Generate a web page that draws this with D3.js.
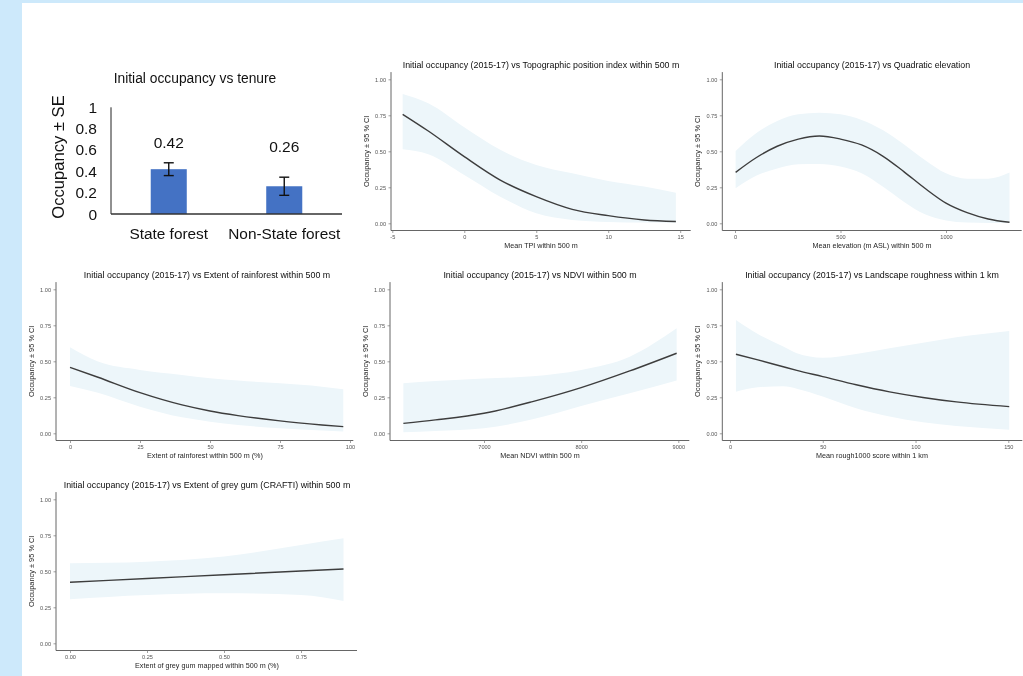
<!DOCTYPE html>
<html>
<head>
<meta charset="utf-8">
<script src="https://cdn.jsdelivr.net/npm/d3@7"></script>
<style>
  html, body { margin: 0; padding: 0; background: #cde9fb; }
  svg { display: block; will-change: transform; }
  .axis-title { fill: #1e1e1e; }
</style>
</head>
<body>
<svg id="chart" width="1023" height="676"></svg>
<script>
// ---- Tenure bar chart ----
const tenureCats = ["State forest", "Non-State forest"];
const tenureOcc = [0.42, 0.26];
const tenureSE = [0.06, 0.085];
const tenureTicks = [0, 0.2, 0.4, 0.6, 0.8, 1];

// ---- Occupancy response curves (fit, lower and upper 95% CI) ----
const tpiX    = [-4.28, -2.5, 0, 2.5, 5, 7.5, 10, 12.5, 14.7];
const tpiFit  = [0.757, 0.641, 0.463, 0.30, 0.185, 0.097, 0.053, 0.023, 0.012];
const tpiLow  = [0.514, 0.48, 0.336, 0.185, 0.069, 0.023, 0.009, 0.005, 0.004];
const tpiHigh = [0.898, 0.833, 0.667, 0.51, 0.405, 0.347, 0.294, 0.255, 0.213];
const tpiTicks = [-5, 0, 5, 10, 15];

const elevX    = [3, 100, 200, 300, 400, 500, 600, 700, 800, 900, 1000, 1100, 1200, 1301];
const elevFit  = [0.354, 0.455, 0.535, 0.585, 0.606, 0.585, 0.544, 0.467, 0.359, 0.243, 0.14, 0.074, 0.03, 0.007];
const elevLow  = [0.243, 0.33, 0.38, 0.41, 0.412, 0.394, 0.347, 0.255, 0.15, 0.062, 0.019, 0.005, 0.002, 0.002];
const elevHigh = [0.502, 0.625, 0.71, 0.757, 0.768, 0.757, 0.718, 0.648, 0.549, 0.44, 0.347, 0.31, 0.31, 0.352];
const elevTicks = [0, 500, 1000];

const rainX    = [0, 10, 25, 40, 50, 60, 75, 90, 97.6];
const rainFit  = [0.458, 0.389, 0.282, 0.197, 0.155, 0.123, 0.086, 0.058, 0.046];
const rainLow  = [0.329, 0.282, 0.185, 0.111, 0.081, 0.058, 0.035, 0.019, 0.012];
const rainHigh = [0.597, 0.498, 0.44, 0.405, 0.382, 0.366, 0.347, 0.324, 0.306];
const rainTicks = [0, 25, 50, 75, 100];

const ndviX    = [6170, 6500, 7000, 7500, 8000, 8500, 8983];
const ndviFit  = [0.069, 0.093, 0.139, 0.22, 0.317, 0.433, 0.556];
const ndviLow  = [0.007, 0.016, 0.035, 0.097, 0.19, 0.278, 0.366];
const ndviHigh = [0.347, 0.363, 0.38, 0.396, 0.44, 0.532, 0.729];
const ndviTicks = [7000, 8000, 9000];

const roughX    = [3.2, 15, 28.7, 36, 50, 68, 86, 104, 122, 150.5];
const roughFit  = [0.549, 0.51, 0.462, 0.437, 0.394, 0.337, 0.288, 0.249, 0.218, 0.185];
const roughLow  = [0.289, 0.32, 0.326, 0.31, 0.255, 0.174, 0.116, 0.076, 0.051, 0.025];
const roughHigh = [0.787, 0.69, 0.602, 0.556, 0.525, 0.551, 0.59, 0.629, 0.667, 0.711];
const roughTicks = [0, 50, 100, 150];

const gumX    = [0, 0.25, 0.5, 0.75, 0.888];
const gumFit  = [0.424, 0.45, 0.476, 0.502, 0.516];
const gumLow  = [0.306, 0.336, 0.347, 0.336, 0.294];
const gumHigh = [0.556, 0.567, 0.602, 0.683, 0.729];
const gumTicks = [0, 0.25, 0.5, 0.75];

const occTicks = [0, 0.25, 0.5, 0.75, 1];

const FONT = "'Liberation Sans', Arial, sans-serif";
const svg = d3.select("#chart");

// white page area
svg.append("rect").attr("x", 22).attr("y", 3).attr("width", 1001).attr("height", 673).attr("fill", "#ffffff");

// ---------- Tenure bar chart ----------
(function drawTenure() {
  const g = svg.append("g").attr("font-family", FONT);
  const x = d3.scaleBand().domain(tenureCats).range([111, 342]).paddingInner(0.688).paddingOuter(0.344);
  const y = d3.scaleLinear().domain([0, 1]).range([214, 107.3]);

  g.append("text").attr("x", 195).attr("y", 82.5).attr("text-anchor", "middle")
    .attr("font-size", 13.8).attr("fill", "#111").text("Initial occupancy vs tenure");

  // y tick labels (no tick marks)
  g.selectAll(".ytl").data(tenureTicks).join("text")
    .attr("x", 97).attr("y", d => y(d) + 5.5).attr("text-anchor", "end")
    .attr("font-size", 15.5).attr("fill", "#111").text(d => d3.format("")(d));

  g.append("text").attr("transform", `translate(63.5,157) rotate(-90)`)
    .attr("text-anchor", "middle").attr("font-size", 16.6).attr("fill", "#111").text("Occupancy ± SE");

  const data = tenureCats.map((c, i) => ({ c, v: tenureOcc[i], se: tenureSE[i] }));

  g.selectAll(".bar").data(data).join("rect")
    .attr("x", d => x(d.c)).attr("width", x.bandwidth())
    .attr("y", d => y(d.v)).attr("height", d => y(0) - y(d.v))
    .attr("fill", "#4472c4");

  // error bars
  const eb = g.selectAll(".eb").data(data).join("g").attr("stroke", "#111").attr("stroke-width", 1.4);
  eb.append("line").attr("x1", d => x(d.c) + x.bandwidth() / 2).attr("x2", d => x(d.c) + x.bandwidth() / 2)
    .attr("y1", d => y(d.v - d.se)).attr("y2", d => y(d.v + d.se));
  eb.append("line").attr("x1", d => x(d.c) + x.bandwidth() / 2 - 5).attr("x2", d => x(d.c) + x.bandwidth() / 2 + 5)
    .attr("y1", d => y(d.v + d.se)).attr("y2", d => y(d.v + d.se));
  eb.append("line").attr("x1", d => x(d.c) + x.bandwidth() / 2 - 5).attr("x2", d => x(d.c) + x.bandwidth() / 2 + 5)
    .attr("y1", d => y(d.v - d.se)).attr("y2", d => y(d.v - d.se));

  // value labels
  g.selectAll(".vl").data(data).join("text")
    .attr("x", d => x(d.c) + x.bandwidth() / 2)
    .attr("y", (d, i) => y(0.6) + (i === 0 ? -1.5 : 2))
    .attr("text-anchor", "middle").attr("font-size", 15.5).attr("fill", "#111")
    .text(d => d3.format(".2f")(d.v));

  // axes
  g.append("line").attr("x1", 111).attr("x2", 111).attr("y1", y(1)).attr("y2", y(0))
    .attr("stroke", "#222").attr("stroke-width", 1);
  g.append("line").attr("x1", 111).attr("x2", 342).attr("y1", y(0)).attr("y2", y(0))
    .attr("stroke", "#333").attr("stroke-width", 1.6);

  g.selectAll(".xl").data(tenureCats).join("text")
    .attr("x", d => x(d) + x.bandwidth() / 2).attr("y", 239)
    .attr("text-anchor", "middle").attr("font-size", 15.4).attr("fill", "#111").text(d => d);
})();

// ---------- Response curve panels ----------
function drawPanel(p) {
  const g = svg.append("g").attr("font-family", FONT);
  const x = d3.scaleLinear().domain(p.xRef).range(p.xPix);
  const y = d3.scaleLinear().domain([0, 1]).range([p.bottom - 7.2, p.bottom - 151.2]);
  const top = p.bottom - 158.4;

  const pts = p.xs.map((v, i) => ({ x: v, fit: p.fit[i], lo: p.lo[i], hi: p.hi[i] }));

  g.append("path").datum(pts)
    .attr("d", d3.area().x(d => x(d.x)).y0(d => y(d.lo)).y1(d => y(d.hi)).curve(d3.curveMonotoneX))
    .attr("fill", "#edf6fa");

  g.append("path").datum(pts)
    .attr("d", d3.line().x(d => x(d.x)).y(d => y(d.fit)).curve(d3.curveMonotoneX))
    .attr("fill", "none").attr("stroke", "#3d3d3d").attr("stroke-width", 1.4);

  // y axis
  const ya = g.append("g").attr("transform", `translate(${p.left},0)`)
    .call(d3.axisLeft(y).tickValues(occTicks).tickFormat(d3.format(".2f")).tickSize(2.5).tickPadding(2.5));
  ya.select(".domain").attr("d", `M0,${top}V${p.bottom}`).attr("stroke", "#555").attr("stroke-width", 0.9);
  ya.selectAll(".tick line").attr("stroke", "#777").attr("stroke-width", 0.7);
  ya.selectAll(".tick text").attr("font-size", 5.6).attr("fill", "#555").attr("font-family", FONT);

  // x axis
  const xa = g.append("g").attr("transform", `translate(0,${p.bottom})`)
    .call(d3.axisBottom(x).tickValues(p.ticks).tickFormat(p.fmt).tickSize(2.5).tickPadding(2));
  xa.select(".domain").attr("d", `M${p.left},0H${p.right}`).attr("stroke", "#555").attr("stroke-width", 0.9);
  xa.selectAll(".tick line").attr("stroke", "#777").attr("stroke-width", 0.7);
  xa.selectAll(".tick text").attr("font-size", 5.6).attr("fill", "#555").attr("font-family", FONT);

  const cx = Math.round((p.left + p.right) / 2);
  g.append("text").attr("x", cx + (p.titleShift || 0)).attr("y", top - 4.5).attr("text-anchor", "middle")
    .attr("font-size", 8.85).style("fill", "#0d0d0d").text(p.title);
  g.append("text").attr("class", "axis-title").attr("x", cx).attr("y", p.bottom + 17.5).attr("text-anchor", "middle")
    .attr("font-size", 7.2).text(p.xlab);
  g.append("text").attr("class", "axis-title")
    .attr("transform", `translate(${p.left - 22},${(top + p.bottom) / 2}) rotate(-90)`)
    .attr("text-anchor", "middle").attr("font-size", 7.4).text("Occupancy ± 95 % CI");
}

const fmt0 = d => String(d);
const fmt2 = d3.format(".2f");

drawPanel({ xs: tpiX, fit: tpiFit, lo: tpiLow, hi: tpiHigh, ticks: tpiTicks, fmt: fmt0,
  xRef: [-5, 15], xPix: [392.3, 680.2], left: 391, right: 690.7, bottom: 230.5,
  title: "Initial occupancy (2015-17) vs Topographic position index within 500 m",
  xlab: "Mean TPI within 500 m" });

drawPanel({ xs: elevX, fit: elevFit, lo: elevLow, hi: elevHigh, ticks: elevTicks, fmt: fmt0,
  xRef: [0, 1000], xPix: [735, 946], left: 722.3, right: 1021.7, bottom: 230.5,
  title: "Initial occupancy (2015-17) vs Quadratic elevation",
  xlab: "Mean elevation (m ASL) within 500 m" });

drawPanel({ xs: rainX, fit: rainFit, lo: rainLow, hi: rainHigh, ticks: rainTicks, fmt: fmt0,
  xRef: [0, 100], xPix: [70, 350], left: 56, right: 353.3, bottom: 440.5, titleShift: 2,
  title: "Initial occupancy (2015-17) vs Extent of rainforest within 500 m",
  xlab: "Extent of rainforest within 500 m (%)" });

drawPanel({ xs: ndviX, fit: ndviFit, lo: ndviLow, hi: ndviHigh, ticks: ndviTicks, fmt: fmt0,
  xRef: [7000, 9000], xPix: [484, 678.3], left: 390, right: 689.3, bottom: 440.5,
  title: "Initial occupancy (2015-17) vs NDVI within 500 m",
  xlab: "Mean NDVI within 500 m" });

drawPanel({ xs: roughX, fit: roughFit, lo: roughLow, hi: roughHigh, ticks: roughTicks, fmt: fmt0,
  xRef: [0, 150], xPix: [730, 1008.3], left: 722.3, right: 1022.3, bottom: 440.5,
  title: "Initial occupancy (2015-17) vs Landscape roughness within 1 km",
  xlab: "Mean rough1000 score within 1 km" });

drawPanel({ xs: gumX, fit: gumFit, lo: gumLow, hi: gumHigh, ticks: gumTicks, fmt: fmt2,
  xRef: [0, 0.75], xPix: [70, 301], left: 56, right: 357, bottom: 650.5,
  title: "Initial occupancy (2015-17) vs Extent of grey gum (CRAFTI) within 500 m",
  xlab: "Extent of grey gum mapped within 500 m (%)" });
</script>
</body>
</html>
